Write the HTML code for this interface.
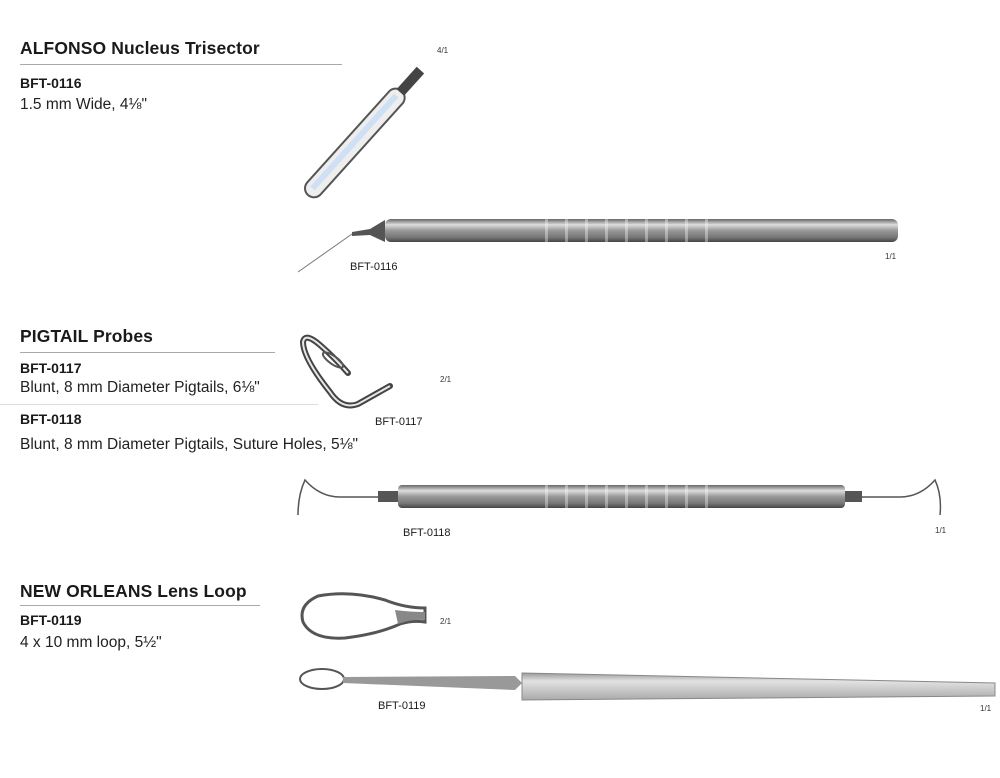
<!DOCTYPE html>
<html><head><meta charset="utf-8"><style>
body{margin:0;width:1000px;height:778px;background:#fff;position:relative;overflow:hidden;font-family:"Liberation Sans",sans-serif;color:#1a1a1a}
.t{position:absolute;left:20px;font-size:17.5px;font-weight:bold;letter-spacing:0.1px}
.c{position:absolute;left:20px;font-size:14px;font-weight:bold}
.d{position:absolute;left:20px;font-size:15.5px;color:#222}
.hr{position:absolute;left:20px;height:1px;background:#aaa}
.l{position:absolute;font-size:11px}
.s{position:absolute;font-size:8px;color:#333}
svg{position:absolute;left:0;top:0}
</style></head><body>
<div class="t" style="top:38px">ALFONSO Nucleus Trisector</div>
<div class="hr" style="top:64px;width:322px"></div>
<div class="c" style="top:75px">BFT-0116</div>
<div class="d" style="top:96px">1.5 mm Wide, 4⅛"</div>

<div class="t" style="top:326px">PIGTAIL Probes</div>
<div class="hr" style="top:352px;width:255px"></div>
<div class="c" style="top:360px">BFT-0117</div>
<div class="d" style="top:379px">Blunt, 8 mm Diameter Pigtails, 6⅛"</div>
<div class="hr" style="top:404px;left:0;width:318px;background:#ddd"></div>
<div class="c" style="top:411px">BFT-0118</div>
<div class="d" style="top:436px">Blunt, 8 mm Diameter Pigtails, Suture Holes, 5⅛"</div>

<div class="t" style="top:581px">NEW ORLEANS Lens Loop</div>
<div class="hr" style="top:605px;width:240px"></div>
<div class="c" style="top:612px">BFT-0119</div>
<div class="d" style="top:634px">4 x 10 mm loop, 5½"</div>

<div class="l" style="left:350px;top:261px">BFT-0116</div>
<div class="l" style="left:375px;top:416px">BFT-0117</div>
<div class="l" style="left:403px;top:527px">BFT-0118</div>
<div class="l" style="left:378px;top:700px">BFT-0119</div>
<div class="s" style="left:437px;top:46px">4/1</div>
<div class="s" style="left:885px;top:252px">1/1</div>
<div class="s" style="left:440px;top:375px">2/1</div>
<div class="s" style="left:935px;top:526px">1/1</div>
<div class="s" style="left:440px;top:617px">2/1</div>
<div class="s" style="left:980px;top:704px">1/1</div>

<svg width="1000" height="778">
<defs>
<linearGradient id="m" x1="0" y1="0" x2="0" y2="1">
<stop offset="0" stop-color="#666"/><stop offset="0.25" stop-color="#ddd"/><stop offset="0.5" stop-color="#999"/><stop offset="0.8" stop-color="#777"/><stop offset="1" stop-color="#444"/></linearGradient>
<linearGradient id="f" x1="0" y1="0" x2="0" y2="1">
<stop offset="0" stop-color="#999"/><stop offset="0.3" stop-color="#e2e2e2"/><stop offset="1" stop-color="#aaa"/></linearGradient>
</defs>
<g transform="translate(308,195) rotate(-48)">
<rect x="0" y="-9" width="140" height="18" rx="9" fill="#eee" stroke="#555" stroke-width="2"/>
<rect x="8" y="-4" width="125" height="6" fill="#cfe0f5"/>
<rect x="138" y="-5" width="30" height="10" fill="#444"/>
</g>
<line x1="298" y1="272" x2="352" y2="234" stroke="#777" stroke-width="1"/>
<polygon points="352,232 370,229 385,220 385,242 370,235 352,236" fill="#555"/>
<rect x="385" y="219" width="513" height="23" rx="6" fill="url(#m)"/>
<g fill="#fff" opacity="0.35">
<rect x="545" y="219" width="3" height="23"/><rect x="565" y="219" width="3" height="23"/><rect x="585" y="219" width="3" height="23"/><rect x="605" y="219" width="3" height="23"/><rect x="625" y="219" width="3" height="23"/><rect x="645" y="219" width="3" height="23"/><rect x="665" y="219" width="3" height="23"/><rect x="685" y="219" width="3" height="23"/><rect x="705" y="219" width="3" height="23"/></g>
<!-- pigtail zoom -->
<path d="M348,373 Q335,358 320,345 Q305,332 303,342 Q303,358 330,392 Q342,410 358,404 L390,386" fill="none" stroke="#444" stroke-width="6" stroke-linecap="round"/>
<path d="M348,373 Q335,358 320,345 Q305,332 303,342 Q303,358 330,392 Q342,410 358,404 L390,386" fill="none" stroke="#e8e8e8" stroke-width="2"/>
<ellipse cx="333" cy="360" rx="12" ry="4" transform="rotate(35 333 360)" fill="none" stroke="#555" stroke-width="2"/>
<!-- handle 2 -->
<path d="M382,497 L340,497 Q320,497 305,480 Q298,495 298,515" fill="none" stroke="#555" stroke-width="1.5"/>
<path d="M858,497 L900,497 Q920,497 935,480 Q942,495 940,515" fill="none" stroke="#555" stroke-width="1.5"/>
<rect x="378" y="491" width="22" height="11" fill="#555"/>
<rect x="840" y="491" width="22" height="11" fill="#555"/>
<rect x="398" y="485" width="447" height="23" rx="4" fill="url(#m)"/>
<g fill="#fff" opacity="0.35">
<rect x="545" y="485" width="3" height="23"/><rect x="565" y="485" width="3" height="23"/><rect x="585" y="485" width="3" height="23"/><rect x="605" y="485" width="3" height="23"/><rect x="625" y="485" width="3" height="23"/><rect x="645" y="485" width="3" height="23"/><rect x="665" y="485" width="3" height="23"/><rect x="685" y="485" width="3" height="23"/><rect x="705" y="485" width="3" height="23"/></g>
<!-- loop zoom -->
<path d="M425,608 Q405,608 385,600 Q350,590 318,596 Q298,605 303,622 Q312,640 345,638 Q378,634 400,624 Q412,620 425,622 Z" fill="#fff" stroke="#555" stroke-width="3"/>
<path d="M395,610 Q410,612 425,612 L425,620 Q410,619 398,624 Z" fill="#888"/>
<!-- handle 3 -->
<ellipse cx="322" cy="679" rx="22" ry="10" fill="none" stroke="#555" stroke-width="2"/>
<path d="M343,677 L515,676 L522,683 L515,690 L343,683 Z" fill="#999"/>
<path d="M522,673 L995,683 L995,696 L522,700 Z" fill="url(#f)" stroke="#888" stroke-width="1"/>
</svg>
</body></html>
